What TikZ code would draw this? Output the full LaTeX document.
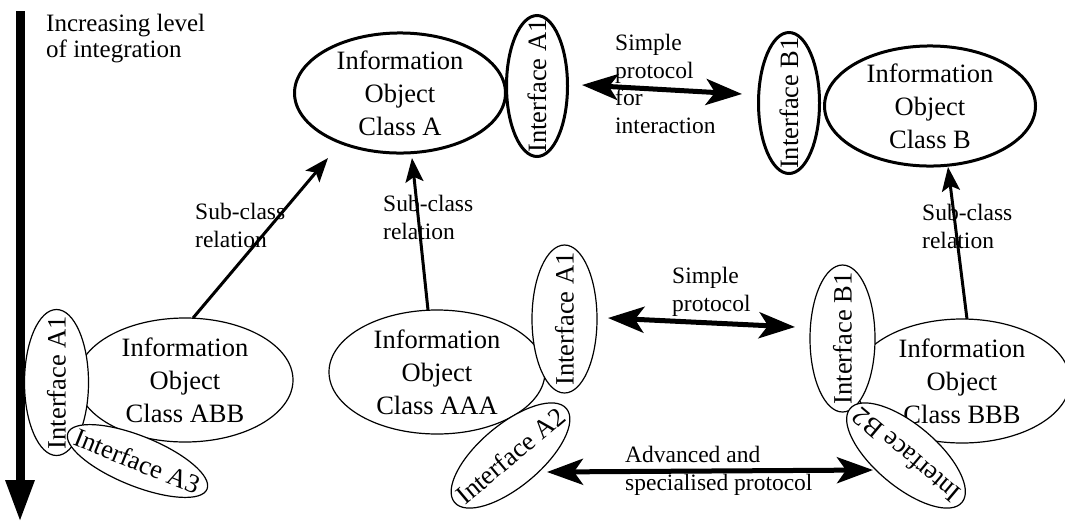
\documentclass[tikz,border=0pt]{standalone}
\usepackage{fontspec}
\setmainfont{Liberation Serif}
\usetikzlibrary{shapes.geometric,arrows.meta,calc}
\begin{document}
\begin{tikzpicture}[x=1pt,y=-1pt,
  cls/.style={ellipse, draw, fill=white, inner sep=0pt, outer sep=0pt,
    minimum width=214pt, minimum height=123pt, align=center,
    font=\fontsize{26.5}{33}\selectfont, line width=1.2pt},
  clsbold/.style={cls, line width=3pt, minimum width=211pt, minimum height=120pt},
  iface/.style={ellipse, draw, fill=white, inner sep=0pt, outer sep=0pt,
    minimum width=146pt, minimum height=64pt,
    font=\fontsize{26.5}{33}\selectfont, line width=1.2pt},
  ifacebold/.style={iface, line width=3pt, minimum width=141pt, minimum height=61pt},
  lbl/.style={font=\fontsize{23.5}{27.7}\selectfont, align=left, inner sep=0pt, anchor=north west},
  sub/.style={line width=3pt, -{Stealth[length=24pt,width=18pt,inset=5pt]}},
  proto/.style={line width=5pt, {Stealth[length=36pt,width=26pt,inset=9pt]}-{Stealth[length=36pt,width=26pt,inset=9pt]}},
  levelarrow/.style={line width=9pt, -{Triangle[length=42pt,width=27pt]}}
]
\useasboundingbox (0,0) rectangle (1065,523);
\clip (0,0) rectangle (1065,523);
\fill[white] (0,0) rectangle (1065,523);

% level arrow
\coordinate (lvTop) at (20,11);
\coordinate (lvBot) at (20,522);
\draw[levelarrow] (lvTop) -- (lvBot);
\node[lbl, font=\fontsize{25}{26}\selectfont] (lblInc) at (46,14) {Increasing level\\of integration};

% top row
\node[clsbold] (clsA) at (400,93) {Information\\Object\\Class A};
\node[ifacebold, rotate=90] (ifAt) at (537,86) {\makebox[0pt]{Interface A1}};
\node[ifacebold, rotate=90] (ifBt) at (789,103) {\makebox[0pt]{Interface B1}};
\node[clsbold, minimum height=116pt] (clsB) at (930,106) {Information\\Object\\Class B};

% lower left: ABB
\node[cls, minimum width=216pt, minimum height=124pt] (clsABB) at (185,380) {Information\\Object\\Class ABB};
\node[iface, rotate=90] (ifAl) at (56.5,382.5) {\makebox[0pt]{Interface A1}};
\node[iface, rotate=-22, minimum width=150pt, minimum height=50pt] (ifA3) at (137.5,461) {\makebox[0pt]{Interface A3}};

% lower middle: AAA
\node[cls, minimum width=216pt, minimum height=124pt] (clsAAA) at (437,372) {Information\\Object\\Class AAA};
\node[iface, rotate=90, minimum width=148pt, minimum height=65pt] (ifA1m) at (564.5,319) {\makebox[0pt]{Interface A1}};
\node[iface, rotate=40, minimum width=146pt, minimum height=62pt] (ifA2) at (510.5,455.5) {\makebox[0pt]{Interface A2}};

% lower right: BBB
\node[cls, minimum width=216pt, minimum height=124pt] (clsBBB) at (962,381) {Information\\Object\\Class BBB};
\node[iface, rotate=90, minimum width=147pt, minimum height=65pt] (ifB1m) at (842.5,338.5) {\makebox[0pt]{Interface B1}};
\node[iface, rotate=140, minimum width=146pt, minimum height=62pt] (ifB2) at (906,455.5) {\makebox[0pt]{Interface B2}};

% labels
\node[lbl] (lblSub1) at (195,203) {Sub-class\\relation};
\node[lbl] (lblSub2) at (383,195) {Sub-class\\relation};
\node[lbl] (lblSub3) at (922,204) {Sub-class\\relation};
\node[lbl] (lblSP1) at (615,34) {Simple\\protocol\\for\\interaction};
\node[lbl] (lblSP2) at (672,267) {Simple\\protocol};
\node[lbl] (lblAdv) at (625,446) {Advanced and\\specialised protocol};

% sub-class relations
\draw[sub] ([xshift=8pt]clsABB.north) -- ($(clsA.center)+(-72,65)$);
\draw[sub] ([xshift=-9pt]clsAAA.north) -- ($(clsA.center)+(12,65)$);
\draw[sub] ([xshift=5pt]clsBBB.north) -- ($(clsB.center)+(18,61)$);

% protocols
\draw[proto] ($(ifAt.center)+(45,-1)$) -- ($(ifBt.center)+(-47,-9)$);
\draw[proto] ($(ifA1m.center)+(43.5,-1)$) -- ($(ifB1m.center)+(-47.5,-11.5)$);
\draw[proto] ($(ifA2.center)+(36.5,16.5)$) -- ($(ifB2.center)+(-33,14.5)$);
\end{tikzpicture}
\end{document}
